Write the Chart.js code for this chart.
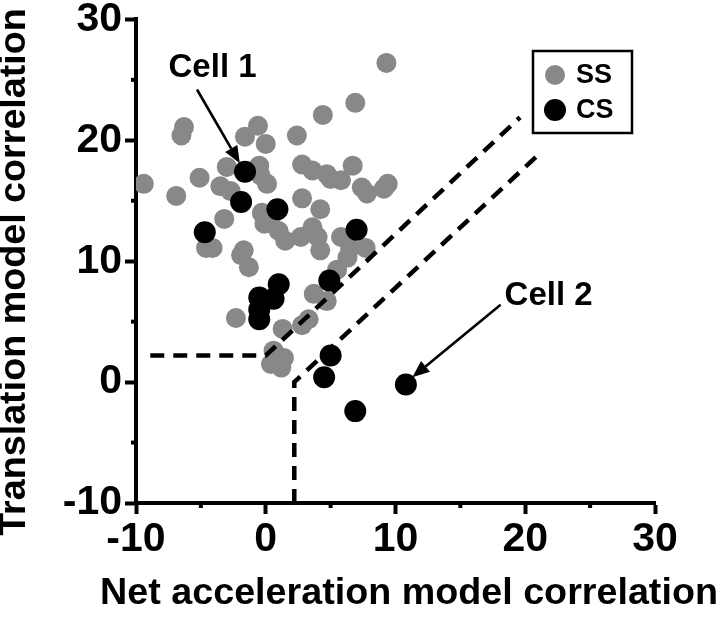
<!DOCTYPE html>
<html>
<head>
<meta charset="utf-8">
<script src="https://cdn.jsdelivr.net/npm/chart.js@4/dist/chart.umd.min.js"></script>
<style>
  body { margin: 0; background: #fff; }
  canvas { display: block; }
</style>
</head>
<body>
<canvas id="mychart" width="720" height="620"></canvas>
<script>
// SS units (grey)
const ssX = [9.3, 6.9, 4.4, -6.3, -6.5, -0.6, -1.6, 0.0, 2.4, -9.4,
             -6.9, -5.1, -3.0, -3.5, -2.7, -0.5, 0.1, -0.4, 2.8, 3.6,
             4.7, 5.0, 5.8, 6.7, 7.4, 7.8, 9.4, 9.1, 2.8, 4.2,
             -3.2, -0.3, -0.1, 0.4, 1.0, 1.5, 2.7, 3.6, 4.0, 4.2,
             5.8, 6.5, 6.3, 7.7, -4.6, -4.1, -1.7, -1.9, -1.3, 5.5,
             3.7, 4.7, -2.3, 1.3, 3.3, 2.8, 0.6, 1.4, 0.4, 1.2];
const ssY = [26.4, 23.1, 22.1, 21.1, 20.4, 21.2, 20.3, 19.7, 20.4, 16.4,
             15.4, 16.9, 17.8, 16.2, 15.8, 17.9, 16.4, 17.1, 18.0, 17.5,
             17.2, 16.8, 16.7, 17.9, 16.1, 15.6, 16.4, 16.0, 15.2, 14.3,
             13.5, 14.0, 13.1, 13.6, 12.5, 11.7, 12.0, 12.8, 12.0, 10.9,
             12.0, 11.1, 10.3, 11.1, 11.1, 11.1, 10.9, 10.5, 9.5, 9.3,
             7.3, 6.7, 5.3, 4.4, 5.2, 4.7, 2.6, 2.0, 1.5, 1.2];

// CS units (black)
const csX = [-1.6, -1.9, 0.9, -4.7, 7.0, 1.0, 0.6, -0.5, -0.5, -0.5, 4.9, 5.0, 4.5, 10.8, 6.9];
const csY = [17.4, 14.9, 14.3, 12.4, 12.6, 8.1, 6.9, 7.0, 6.0, 5.2, 8.4, 2.2, 0.4, -0.2, -2.4];

// dashed boundaries
const bound1X = [-8.9, 0.0, 19.6];
const bound1Y = [2.2, 2.2, 21.9];
const bound2X = [2.2, 2.2, 21.3];
const bound2Y = [-10, 0.0, 19.1];

const majorTicks = [-10, 0, 10, 20, 30];
const minorTicks = [-5, 5, 15, 25];

const xTitle = 'Net acceleration model correlation';
const yTitle = 'Translation model correlation';

// "Cell" callouts
const cellLabels = ['Cell 1', 'Cell 2'];
const cellLabelX = [-4.1, 21.8];
const cellLabelY = [26.0, 7.1];
const arrowFromX = [-5.3, 18.1];
const arrowFromY = [24.2, 6.4];
const arrowToX = [-2.0, 11.3];
const arrowToY = [18.1, 0.4];

const FONT = '"Liberation Sans", Arial, sans-serif';

function pts(xs, ys) {
    return xs.map((x, i) => ({x: x, y: ys[i]}));
}

const extras = {
    id: 'extras',
    afterDatasetsDraw(chart) {
        const c = chart.ctx;
        const sx = chart.scales.x, sy = chart.scales.y;
        const area = chart.chartArea;
        c.save();
        // minor ticks
        c.strokeStyle = '#000';
        c.lineWidth = 4;
        minorTicks.forEach(v => {
            let px = sx.getPixelForValue(v);
            c.beginPath(); c.moveTo(px, area.bottom); c.lineTo(px, area.bottom + 5); c.stroke();
            let py = sy.getPixelForValue(v);
            c.beginPath(); c.moveTo(area.left, py); c.lineTo(area.left - 5, py); c.stroke();
        });

        // axis titles (drawn here so they are not squeezed to the axis length)
        c.fillStyle = '#000';
        c.font = 'bold 37.7px ' + FONT;
        c.textAlign = 'center';
        c.textBaseline = 'middle';
        c.fillText(xTitle, 409, 594);
        c.save();
        c.translate(15, 272);
        c.rotate(-Math.PI / 2);
        c.fillText(yTitle, 0, 0);
        c.restore();

        // arrows + labels
        c.font = 'bold 33px ' + FONT;
        for (let i = 0; i < cellLabels.length; i++) {
            c.fillText(cellLabels[i], sx.getPixelForValue(cellLabelX[i]), sy.getPixelForValue(cellLabelY[i]));
            let x1 = sx.getPixelForValue(arrowFromX[i]), y1 = sy.getPixelForValue(arrowFromY[i]);
            let x2 = sx.getPixelForValue(arrowToX[i]), y2 = sy.getPixelForValue(arrowToY[i]);
            let a = Math.atan2(y2 - y1, x2 - x1);
            let hl = 17, hw = 7;
            let bx = x2 - hl * Math.cos(a), by = y2 - hl * Math.sin(a);
            c.lineWidth = 2.6;
            c.beginPath(); c.moveTo(x1, y1); c.lineTo(bx, by); c.stroke();
            c.beginPath();
            c.moveTo(x2, y2);
            c.lineTo(bx + hw * Math.sin(a), by - hw * Math.cos(a));
            c.lineTo(bx - hw * Math.sin(a), by + hw * Math.cos(a));
            c.closePath(); c.fill();
        }

        // legend box
        c.lineWidth = 2.5;
        c.strokeRect(533, 51, 99, 82);
        c.font = 'bold 27px ' + FONT;
        c.textAlign = 'left';
        const items = [chart.data.datasets[3], chart.data.datasets[2]];
        items.forEach((ds, i) => {
            let cy = 75 + i * 35;
            c.fillStyle = ds.backgroundColor;
            c.beginPath(); c.arc(555, cy, ds.pointRadius, 0, Math.PI * 2); c.fill();
            c.fillStyle = '#000';
            c.fillText(ds.label, 576, cy + 1);
        });
        c.restore();
    }
};

const ctx = document.getElementById('mychart').getContext('2d');
new Chart(ctx, {
    type: 'scatter',
    data: {
        datasets: [
            {
                label: 'bound1', data: pts(bound1X, bound1Y), showLine: true,
                borderColor: '#000', borderWidth: 4.5, borderDash: [14, 9],
                pointRadius: 0, fill: false, tension: 0
            },
            {
                label: 'bound2', data: pts(bound2X, bound2Y), showLine: true,
                borderColor: '#000', borderWidth: 4.5, borderDash: [14, 9],
                pointRadius: 0, fill: false, tension: 0
            },
            {
                label: 'CS', data: pts(csX, csY), backgroundColor: '#000',
                pointRadius: 11, borderWidth: 0
            },
            {
                label: 'SS', data: pts(ssX, ssY), backgroundColor: '#888888',
                pointRadius: 10, borderWidth: 0
            }
        ]
    },
    options: {
        responsive: false,
        animation: false,
        layout: { padding: { top: 18, right: 65, bottom: 14, left: 0 } },
        plugins: { legend: { display: false }, tooltip: { enabled: false } },
        scales: {
            x: {
                min: -10, max: 30,
                afterFit: s => { s.height = 103; },
                afterBuildTicks: s => { s.ticks = majorTicks.map(v => ({value: v})); },
                grid: { drawOnChartArea: false, tickLength: 11, tickWidth: 4, tickColor: '#000' },
                border: { display: true, color: '#000', width: 4 },
                ticks: { color: '#000', padding: 9, maxRotation: 0,
                         font: { family: FONT, size: 41, weight: 'bold', lineHeight: 0.8 } },
                title: { display: false }
            },
            y: {
                min: -10, max: 30,
                afterFit: s => { s.width = 136; },
                afterBuildTicks: s => { s.ticks = majorTicks.map(v => ({value: v})); },
                grid: { drawOnChartArea: false, tickLength: 11, tickWidth: 4, tickColor: '#000' },
                border: { display: true, color: '#000', width: 4 },
                ticks: { color: '#000', padding: 3,
                         font: { family: FONT, size: 41, weight: 'bold', lineHeight: 0.8 } },
                title: { display: false }
            }
        }
    },
    plugins: [extras]
});
</script>
</body>
</html>
